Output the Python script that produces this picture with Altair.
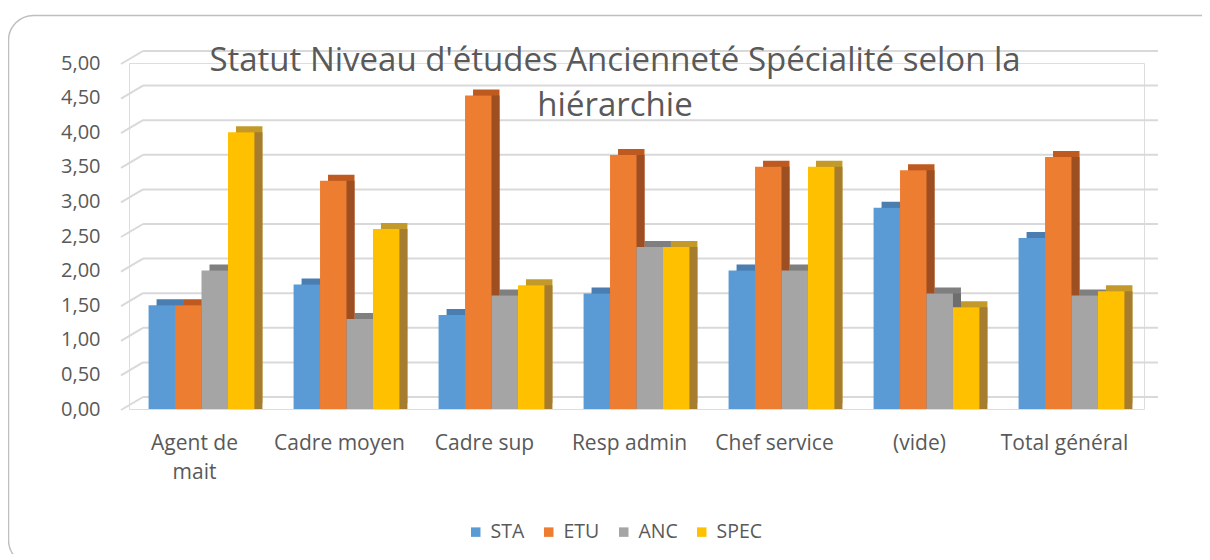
import altair as alt
import pandas as pd

CATEGORIES = ["Agent de mait", "Cadre moyen", "Cadre sup", "Resp admin",
              "Chef service", "(vide)", "Total général"]
SERIES = ["STA", "ETU", "ANC", "SPEC"]
STA = [1.50, 1.80, 1.36, 1.67, 2.00, 2.91, 2.47]
ETU = [1.50, 3.30, 4.53, 3.67, 3.50, 3.45, 3.64]
ANC = [2.00, 1.30, 1.64, 2.34, 2.00, 1.67, 1.64]
SPEC = [4.00, 2.60, 1.79, 2.34, 3.50, 1.47, 1.70]
Y_TICKS = [0, 0.5, 1, 1.5, 2, 2.5, 3, 3.5, 4, 4.5, 5]
TITLE_LINES = ["Statut Niveau d'études Ancienneté Spécialité selon la", "hiérarchie"]

FRONT = ["#5B9BD5", "#ED7D31", "#A5A5A5", "#FFC000"]
TOP = ["#4A7DB0", "#BE5A1F", "#7F7F7F", "#C39A2A"]
SIDE = ["#3F6E9C", "#9E4F22", "#6E6E6E", "#A67C2E"]

rows = []
for s, vals in zip(SERIES, [STA, ETU, ANC, SPEC]):
    for c, v in zip(CATEGORIES, vals):
        rows.append({"cat": c, "serie": s, "val": v})
df = pd.DataFrame(rows)

W, H = 1015, 346
TEXT = "#595959"
FONT = "Open Sans"
BANDW = 1015 / 7 * 0.73
DEPTH = 8

xenc = alt.X("cat:N", sort=CATEGORIES, title=None,
             scale=alt.Scale(paddingInner=0.27, paddingOuter=0.135),
             axis=alt.Axis(domain=False, ticks=False, labelAngle=0,
                           labelFontSize=21, labelColor=TEXT, labelFont=FONT,
                           labelPadding=23, labelLineHeight=29, labelOffset=-7,
                           labelExpr="datum.label == '" + CATEGORIES[0] +
                                     "' ? ['Agent de', 'mait'] : datum.label"))


def xoff(shift):
    return alt.XOffset("serie:N", sort=SERIES,
                       scale=alt.Scale(domain=SERIES, range=[shift, shift + BANDW],
                                       paddingInner=0, paddingOuter=0))


yaxis = alt.Axis(values=Y_TICKS, domain=False, ticks=False, grid=False,
                 labelFontSize=20, labelColor=TEXT, labelFont=FONT,
                 labelPadding=29,
                 labelExpr="replace(format(datum.value, '.2f'), '.', ',')")
yscale = alt.Scale(domain=[0, 5], nice=False, zero=True)
yenc = alt.Y("val:Q", title=None, scale=yscale, axis=yaxis)

base = alt.Chart(df)

top_layer = base.mark_bar(yOffset=-6).encode(
    x=xenc, xOffset=xoff(DEPTH), y=yenc,
    color=alt.Color("serie:N", scale=alt.Scale(domain=SERIES, range=TOP), legend=None))
side_layer = base.mark_bar().encode(
    x=xenc, xOffset=xoff(DEPTH), y=yenc,
    color=alt.Color("serie:N", scale=alt.Scale(domain=SERIES, range=SIDE), legend=None))
front_layer = base.mark_bar().encode(
    x=xenc, xOffset=xoff(0), y=yenc,
    color=alt.Color("serie:N", sort=SERIES,
                    scale=alt.Scale(domain=SERIES, range=FRONT),
                    legend=alt.Legend(title=None, orient="none", direction="horizontal",
                                      legendX=337, legendY=459, symbolType="square",
                                      symbolSize=90, symbolStrokeWidth=0,
                                      labelFontSize=19.5, labelColor=TEXT, labelFont=FONT,
                                      labelOffset=5, columnPadding=14, padding=0)))

grid_df = pd.DataFrame({"v": Y_TICKS})
gy = alt.Y("v:Q", title=None, scale=yscale, axis=yaxis)
grid_back = alt.Chart(grid_df).mark_rule(color="#D9D9D9", strokeWidth=2, yOffset=-12).encode(
    x=alt.value(14), x2=alt.value(1029), y=gy)
grid_stub = alt.Chart(grid_df).mark_rule(color="#D9D9D9", strokeWidth=2,
                                         yOffset=1, y2Offset=-12).encode(
    x=alt.value(-8), x2=alt.value(14), y=gy, y2="v:Q")

one = pd.DataFrame({"k": [0]})
frame = alt.Chart(one).mark_rect(fill="transparent", stroke="#BFBFBF", strokeWidth=1.5,
                                 cornerRadius=25).encode(
    x=alt.value(-120.5), x2=alt.value(1100), y=alt.value(-47.5), y2=alt.value(502))
title = alt.Chart(one).mark_text(text=TITLE_LINES, font=FONT, fontSize=33, color=TEXT,
                                 align="center", baseline="alphabetic", lineHeight=45).encode(
    x=alt.value(486), y=alt.value(8))

chart = alt.layer(frame, grid_back, grid_stub, top_layer, side_layer, front_layer, title).resolve_scale(
    color="independent", xOffset="independent"
).properties(
    width=W, height=H,
    autosize=alt.AutoSizeParams(type="none"),
    padding={"left": 121, "top": 55, "right": 58, "bottom": 145},
).configure_view(stroke=None).configure(background="white")

chart.save("out.html", embed_options={"renderer": "svg", "actions": False})
